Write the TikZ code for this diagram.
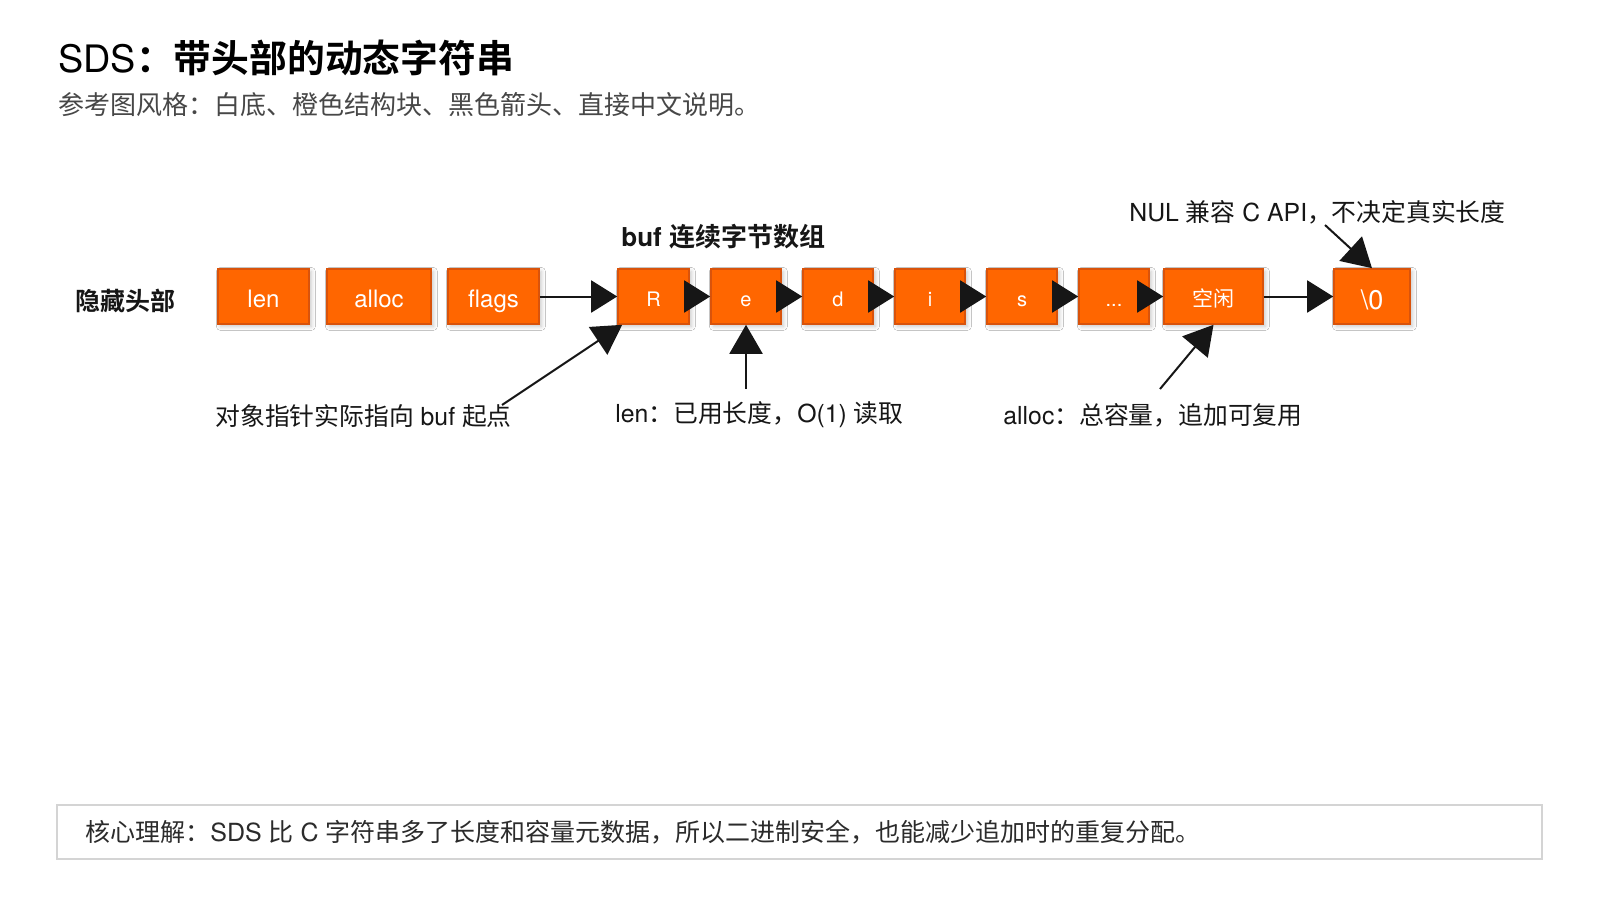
\documentclass[tikz,border=0pt]{standalone}
\usepackage{fontspec}
\setmainfont{TeX Gyre Heros}
\newfontfamily\cjk{Noto Sans CJK SC}[BoldFont={Noto Sans CJK SC Bold}]
\newcommand\C[1]{{\cjk #1}}
\usetikzlibrary{arrows.meta,shadows.blur,calc}
\definecolor{boxfill}{HTML}{FF6600}
\definecolor{boxedge}{HTML}{D9530B}
\definecolor{ink}{HTML}{161616}
\definecolor{subgray}{HTML}{474747}
\definecolor{framegray}{HTML}{D4D4D4}
\definecolor{bodytext}{HTML}{2B2B2B}
\newcommand\fs[1]{\fontsize{#1}{#1}\selectfont}
\begin{document}
\begin{tikzpicture}[x=0.5pt,y=-0.5pt,
  blk/.style={draw=boxedge, fill=boxfill, line width=0.8pt, text=white,
    minimum height=27.5pt, inner sep=0pt,
    blur shadow={shadow xshift=1.2pt, shadow yshift=-1.2pt, shadow blur radius=2pt, shadow blur steps=6, shadow opacity=22}},
  hdr/.style={blk, font=\fs{12pt}, text height=11pt, text depth=0.5pt},
  chr/.style={blk, minimum width=35pt, font=\fs{10pt}, text height=9.5pt, text depth=0pt},
  lbl/.style={inner sep=0pt, anchor=west, text=ink},
  note/.style={lbl, font=\fs{12.4pt}},
  arr/.style={draw=ink, fill=ink, line width=1pt, -{Triangle[length=13pt,width=16pt]}},
  parr/.style={draw=ink, fill=ink, line width=1pt, -{Triangle[length=14.5pt,width=16.5pt]}}
]
\fill[white] (0,0) rectangle (1600,900);
\useasboundingbox (0,0) rectangle (1600,900);

% titles
\node[lbl, font=\fs{18.9pt}, text=black] (title) at (58,58) {SDS{\bfseries\C{：带头部的动态字符串}}};
\node[lbl, font=\fs{13pt}, text=subgray] (sub) at (58,105) {\C{参考图风格：白底、橙色结构块、黑色箭头、直接中文说明。}};

% row labels
\node[lbl, font=\fs{12.5pt}\bfseries] (hidden) at (75,301) {\C{隐藏头部}};
\node[lbl, font=\fs{13pt}\bfseries] (buflbl) at (621,237) {buf \C{连续字节数组}};

% header boxes
\node[hdr, minimum width=45.5pt] (len) at (263.5,296.5) {len};
\node[hdr, minimum width=52pt] (alloc) at (379,296.5) {alloc};
\node[hdr, minimum width=45.5pt] (flags) at (493.5,296.5) {flags};

% buffer boxes
\node[chr, minimum width=35.5pt] (R) at (653.5,296.5) {R};
\node[chr] (e) at (746,296.5) {e};
\node[chr] (d) at (838,296.5) {d};
\node[chr] (i) at (930,296.5) {i};
\node[chr] (s) at (1022,296.5) {s};
\node[chr] (dots) at (1114,296.5) {...};
\node[blk, minimum width=49.5pt, font=\fs{10.5pt}, text height=10pt, text depth=0pt] (free) at (1213.5,296.5) {\C{空闲}};
\node[blk, minimum width=38pt, font=\fs{13.5pt}, text height=13pt, text depth=0pt] (nul) at (1372,296.5) {\textbackslash 0};

% chain arrows
\draw[arr] (flags.east) -- (R.west);
\draw[arr] (R.east) -- (e.west);
\draw[arr] (e.east) -- (d.west);
\draw[arr] (d.east) -- (i.west);
\draw[arr] (i.east) -- (s.west);
\draw[arr] (s.east) -- (dots.west);
\draw[arr] (dots.east) -- (free.west);
\draw[arr] (free.east) -- (nul.west);

% annotations
\node[note] (t1) at (215,416) {\C{对象指针实际指向} buf \C{起点}};
\node[note] (t2) at (615,415) {len\C{：已用长度，}O(1) \C{读取}};
\node[note] (t3) at (1003,415) {alloc\C{：总容量，追加可复用}};
\node[note] (t4) at (1129,212) {NUL \C{兼容} C API\C{，不决定真实长度}};

\coordinate (p1) at (502,405);
\coordinate (p2) at (746,389);
\coordinate (p3) at (1160,389);
\coordinate (p4) at (1325,225);

\draw[parr] (p1) -- ([xshift=2.5pt]R.south west);
\draw[parr] (p2) -- (e.south);
\draw[parr] (p3) -- (free.south);
\draw[parr] (p4) -- (nul.north);

% bottom summary
\node[draw=framegray, line width=1pt, minimum width=742.5pt, minimum height=27pt, inner sep=0pt] (frame) at (799.5,832) {};
\node[lbl, font=\fs{12.5pt}, text=bodytext] (summary) at (85,832) {\C{核心理解：}SDS \C{比} C \C{字符串多了长度和容量元数据，所以二进制安全，也能减少追加时的重复分配。}};
\end{tikzpicture}
\end{document}
